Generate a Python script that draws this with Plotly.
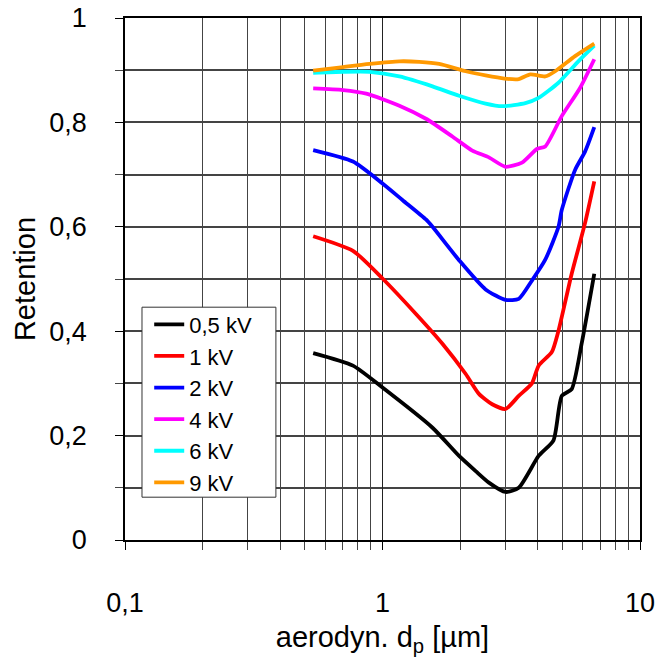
import plotly.graph_objects as go

# Data (aerodynamic diameter in µm, retention)
d_05kV = [0.538, 0.768, 1.00, 1.564, 1.983, 2.301, 2.589, 3.004, 3.381, 4.039, 4.614, 4.967, 5.429, 5.934, 6.644]
r_05kV = [0.358, 0.334, 0.292, 0.215, 0.161, 0.132, 0.110, 0.092, 0.100, 0.161, 0.191, 0.276, 0.289, 0.376, 0.510]

d_1kV = [0.538, 0.768, 1.00, 1.349, 1.709, 2.105, 2.369, 2.667, 3.004, 3.381, 3.804, 4.039, 4.545, 4.825, 5.429, 6.116, 6.644]
r_1kV = [0.582, 0.554, 0.501, 0.433, 0.376, 0.318, 0.280, 0.260, 0.251, 0.276, 0.300, 0.334, 0.360, 0.401, 0.510, 0.607, 0.687]

d_2kV = [0.538, 0.768, 1.00, 1.198, 1.475, 1.564, 1.983, 2.514, 3.004, 3.381, 3.804, 4.286, 4.825, 4.967, 5.595, 6.116, 6.644]
r_2kV = [0.747, 0.725, 0.683, 0.651, 0.614, 0.600, 0.536, 0.480, 0.460, 0.462, 0.497, 0.537, 0.600, 0.632, 0.709, 0.744, 0.791]

d_4kV = [0.538, 0.703, 0.865, 1.163, 1.475, 1.868, 2.232, 2.589, 3.004, 3.481, 3.977, 4.286, 4.967, 5.850, 6.644]
r_4kV = [0.865, 0.862, 0.855, 0.832, 0.807, 0.773, 0.746, 0.733, 0.715, 0.723, 0.749, 0.754, 0.812, 0.866, 0.921]

d_6kV = [0.538, 0.703, 0.891, 1.163, 1.564, 1.983, 2.514, 2.914, 3.588, 4.039, 4.825, 5.762, 6.644]
r_6kV = [0.895, 0.897, 0.897, 0.888, 0.869, 0.851, 0.836, 0.831, 0.837, 0.847, 0.876, 0.917, 0.947]

d_9kV = [0.538, 0.703, 0.891, 1.163, 1.390, 1.660, 2.105, 2.514, 2.977, 3.381, 3.751, 4.286, 4.685, 5.595, 6.644]
r_9kV = [0.899, 0.906, 0.912, 0.917, 0.916, 0.912, 0.898, 0.890, 0.884, 0.883, 0.892, 0.888, 0.898, 0.927, 0.951]

series_names = ["0,5 kV", "1 kV", "2 kV", "4 kV", "6 kV", "9 kV"]
series_colors = ["#000000", "#ff0000", "#0000ff", "#ff00ff", "#00ffff", "#ff9900"]
series_x = [d_05kV, d_1kV, d_2kV, d_4kV, d_6kV, d_9kV]
series_y = [r_05kV, r_1kV, r_2kV, r_4kV, r_6kV, r_9kV]

x_tickvals = [0.1, 1, 10]
x_ticktext = ["0,1", "1", "10"]
x_minor = [m * 10 ** e for e in (-1, 0) for m in range(2, 10)]

FONT = "Liberation Sans, Arial, sans-serif"

fig = go.Figure()
for name, col, xs, ys in zip(series_names, series_colors, series_x, series_y):
    fig.add_trace(go.Scatter(x=xs, y=ys, mode="lines", name=name,
                             line=dict(color=col, width=3.8, shape="spline", smoothing=0.6)))

# legend frame (white box with thin border)
fig.add_shape(type="rect", xref="paper", yref="paper",
              x0=0.033, x1=0.293, y0=0.082, y1=0.446,
              fillcolor="white", line=dict(color="#333333", width=1), layer="above")

fig.update_layout(
    width=660, height=657,
    margin=dict(l=125, r=20, t=18, b=117),
    paper_bgcolor="white", plot_bgcolor="white",
    separators=", ",
    font=dict(family=FONT, size=27, color="black"),
    showlegend=True,
    legend=dict(x=0.047, y=0.453, xanchor="left", yanchor="top",
                bgcolor="rgba(0,0,0,0)", borderwidth=0,
                font=dict(family=FONT, size=22, color="black"),
                itemwidth=30, tracegroupgap=0),
)

fig.update_xaxes(
    type="log", range=[-1, 1], automargin=False,
    tickmode="array", tickvals=x_tickvals, ticktext=x_ticktext,
    showgrid=True, gridcolor="#222222", gridwidth=1,
    showline=True, linecolor="black", linewidth=1.5, mirror=True,
    ticks="outside", ticklen=8, tickcolor="black",
    ticklabelstandoff=30,
    minor=dict(tickvals=x_minor, showgrid=True, gridcolor="#444444", gridwidth=1,
               ticks="outside", ticklen=8, tickcolor="#444444"),
    title=dict(text="aerodyn. d<sub>p</sub> [µm]", font=dict(size=29), standoff=10),
    zeroline=False,
)

fig.update_yaxes(
    range=[0, 1], tick0=0, dtick=0.2, automargin=False,
    showgrid=True, gridcolor="#444444", gridwidth=1.5,
    showline=True, linecolor="black", linewidth=1.5, mirror=True,
    ticks="outside", ticklen=8, tickcolor="black",
    ticklabelstandoff=23,
    minor=dict(dtick=0.1, showgrid=True, gridcolor="#444444", gridwidth=1.5,
               ticks="outside", ticklen=8, tickcolor="#444444"),
    title=dict(text="Retention", font=dict(size=29), standoff=5),
    zeroline=False,
)

fig.write_html("out.html", config={"displayModeBar": False},
               post_script="document.body.style.margin='0';")
